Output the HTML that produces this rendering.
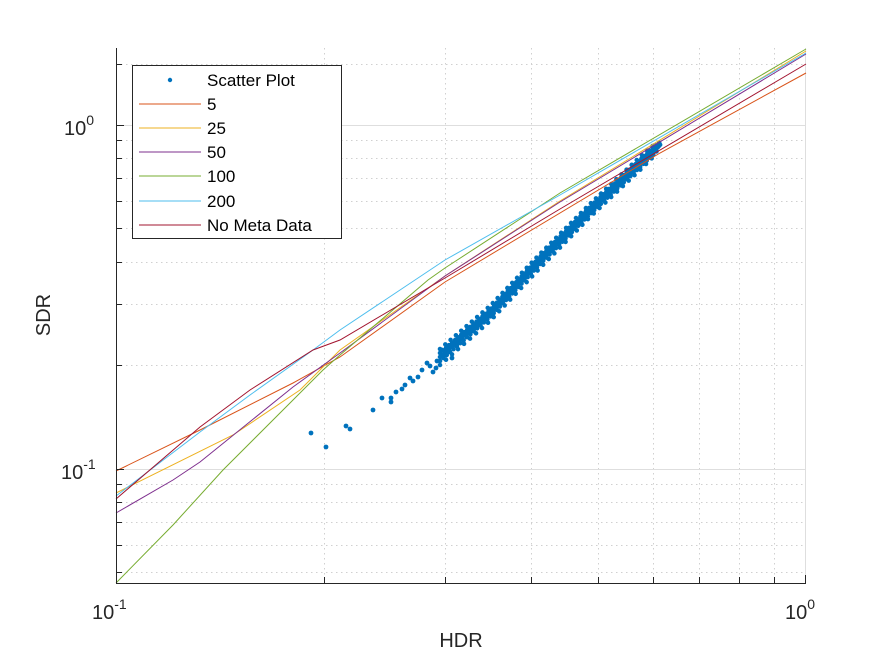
<!DOCTYPE html>
<html><head><meta charset="utf-8"><style>
html,body{margin:0;padding:0;background:#fff;}
svg{display:block;font-family:"Liberation Sans",sans-serif;}
</style></head><body>
<svg width="891" height="656" viewBox="0 0 891 656" xmlns="http://www.w3.org/2000/svg">
<rect width="891" height="656" fill="#fff"/>
<g stroke="#d0d0d0" stroke-width="1" stroke-dasharray="1.5,3.5">
<line x1="324.5" y1="48" x2="324.5" y2="583"/><line x1="445.5" y1="48" x2="445.5" y2="583"/>
<line x1="531.5" y1="48" x2="531.5" y2="583"/><line x1="598.5" y1="48" x2="598.5" y2="583"/>
<line x1="653.5" y1="48" x2="653.5" y2="583"/><line x1="699.5" y1="48" x2="699.5" y2="583"/>
<line x1="739.5" y1="48" x2="739.5" y2="583"/><line x1="774.5" y1="48" x2="774.5" y2="583"/>
<line x1="116" y1="572.5" x2="806" y2="572.5"/><line x1="116" y1="545.5" x2="806" y2="545.5"/>
<line x1="116" y1="522.5" x2="806" y2="522.5"/><line x1="116" y1="502.5" x2="806" y2="502.5"/>
<line x1="116" y1="484.5" x2="806" y2="484.5"/><line x1="116" y1="365.5" x2="806" y2="365.5"/>
<line x1="116" y1="304.5" x2="806" y2="304.5"/><line x1="116" y1="262.5" x2="806" y2="262.5"/>
<line x1="116" y1="228.5" x2="806" y2="228.5"/><line x1="116" y1="201.5" x2="806" y2="201.5"/>
<line x1="116" y1="178.5" x2="806" y2="178.5"/><line x1="116" y1="158.5" x2="806" y2="158.5"/>
<line x1="116" y1="140.5" x2="806" y2="140.5"/><line x1="116" y1="64.5" x2="806" y2="64.5"/>
</g>
<g stroke="#dedede" stroke-width="1">
<line x1="116" y1="125.5" x2="806" y2="125.5"/><line x1="116" y1="469.5" x2="806" y2="469.5"/>
<line x1="805.5" y1="48" x2="805.5" y2="583"/>
</g>
<g fill="#0072BD">
<circle cx="311" cy="433" r="2.4"/><circle cx="326" cy="447" r="2.4"/><circle cx="346" cy="426" r="2.4"/>
<circle cx="350" cy="429" r="2.4"/><circle cx="373" cy="410" r="2.4"/><circle cx="382" cy="398" r="2.4"/>
<circle cx="391" cy="402" r="2.4"/><circle cx="391" cy="398" r="2.4"/><circle cx="396" cy="392" r="2.4"/>
<circle cx="402" cy="389" r="2.4"/><circle cx="405" cy="385" r="2.4"/><circle cx="410" cy="378" r="2.4"/>
<circle cx="413" cy="381" r="2.4"/><circle cx="418" cy="377" r="2.4"/><circle cx="422" cy="370" r="2.4"/>
<circle cx="427" cy="363" r="2.4"/><circle cx="430" cy="366" r="2.4"/><circle cx="433" cy="372" r="2.4"/>
<circle cx="436" cy="368" r="2.4"/><circle cx="445" cy="355" r="2.4"/><circle cx="452" cy="358" r="2.4"/>
<circle cx="437" cy="361" r="2.4"/><circle cx="442" cy="350" r="2.4"/><circle cx="458" cy="343" r="2.4"/>
</g>
<g fill="none" stroke="#0072BD" stroke-linecap="round">
<polyline stroke-width="6" points="470,331 490,313 540,260 590,210 640,163 658,146"/>
<polyline stroke-width="4.6" stroke-dasharray="0 3" points="440,357 490,313 540,260 590,210 640,163 662,143"/>
<polyline stroke-width="4.6" stroke-dasharray="0 4" points="440,353 490,310 540,257 590,207 640,160 660,142"/>
<polyline stroke-width="4.6" stroke-dasharray="0 4.5" points="440,361 490,317 540,264 590,214 640,167 658,150"/>
<polyline stroke-width="4.6" stroke-dasharray="0 7" points="440,349 490,306 540,254 590,204 640,157 656,143"/>
<polyline stroke-width="4.6" stroke-dasharray="0 8" points="440,365 490,321 540,268 590,217 640,170 655,155"/>
</g>
<g fill="none" stroke-width="1">
<polyline stroke="#D95319" points="116,471 200,430 293,383 340,357 445,282 660,153 806,73"/>
<polyline stroke="#EDB120" points="116,493 233,435 300,390 340,350 445,276 560,201 806,51"/>
<polyline stroke="#7E2F8E" points="116,513 173,480 200,462 293,387 340,353 445,276 560,202 806,54"/>
<polyline stroke="#77AC30" points="116,583 173,525 223,470 323,370 340,355 428,280 445,268 560,193 806,49"/>
<polyline stroke="#4DBEEE" points="116,496 200,432 250,395 313,350 340,330 445,260 560,195 806,53"/>
<polyline stroke="#A2142F" points="116,499 200,427 250,390 313,350 340,340 445,278 560,209 806,64"/>
</g>
<g stroke="#262626" stroke-width="1">
<line x1="116.5" y1="48" x2="116.5" y2="583.5"/><line x1="116" y1="583.5" x2="806" y2="583.5"/>
<line x1="324.5" y1="583" x2="324.5" y2="577"/><line x1="445.5" y1="583" x2="445.5" y2="577"/>
<line x1="531.5" y1="583" x2="531.5" y2="577"/><line x1="598.5" y1="583" x2="598.5" y2="577"/>
<line x1="653.5" y1="583" x2="653.5" y2="577"/><line x1="699.5" y1="583" x2="699.5" y2="577"/>
<line x1="739.5" y1="583" x2="739.5" y2="577"/><line x1="774.5" y1="583" x2="774.5" y2="577"/>
<line x1="805.5" y1="583" x2="805.5" y2="575"/>
<line x1="116" y1="125.5" x2="124" y2="125.5"/><line x1="116" y1="469.5" x2="124" y2="469.5"/>
<line x1="116" y1="572.5" x2="122" y2="572.5"/><line x1="116" y1="545.5" x2="122" y2="545.5"/>
<line x1="116" y1="522.5" x2="122" y2="522.5"/><line x1="116" y1="502.5" x2="122" y2="502.5"/>
<line x1="116" y1="484.5" x2="122" y2="484.5"/><line x1="116" y1="365.5" x2="122" y2="365.5"/>
<line x1="116" y1="304.5" x2="122" y2="304.5"/><line x1="116" y1="262.5" x2="122" y2="262.5"/>
<line x1="116" y1="228.5" x2="122" y2="228.5"/><line x1="116" y1="201.5" x2="122" y2="201.5"/>
<line x1="116" y1="178.5" x2="122" y2="178.5"/><line x1="116" y1="158.5" x2="122" y2="158.5"/>
<line x1="116" y1="140.5" x2="122" y2="140.5"/><line x1="116" y1="64.5" x2="122" y2="64.5"/>
</g>
<g fill="#262626" font-size="20">
<text x="92" y="619">10<tspan font-size="14" dy="-10">-1</tspan></text>
<text x="785" y="619">10<tspan font-size="14" dy="-10">0</tspan></text>
<text x="64" y="135">10<tspan font-size="14" dy="-10">0</tspan></text>
<text x="61" y="479">10<tspan font-size="14" dy="-10">-1</tspan></text>
<text x="461" y="647" text-anchor="middle" font-size="20">HDR</text>
<text transform="translate(50,315) rotate(-90)" text-anchor="middle" font-size="20">SDR</text>
</g>
<rect x="132.5" y="65.5" width="209" height="173" fill="#fff" stroke="#262626" stroke-width="1"/>
<circle cx="170" cy="80" r="2.2" fill="#0072BD"/>
<g stroke-width="1">
<line x1="139" y1="104" x2="201" y2="104" stroke="#D95319"/>
<line x1="139" y1="128" x2="201" y2="128" stroke="#EDB120"/>
<line x1="139" y1="152" x2="201" y2="152" stroke="#7E2F8E"/>
<line x1="139" y1="176" x2="201" y2="176" stroke="#77AC30"/>
<line x1="139" y1="201" x2="201" y2="201" stroke="#4DBEEE"/>
<line x1="139" y1="225" x2="201" y2="225" stroke="#A2142F"/>
</g>
<g fill="#000" font-size="17">
<text x="207" y="86">Scatter Plot</text>
<text x="207" y="110">5</text>
<text x="207" y="134">25</text>
<text x="207" y="158">50</text>
<text x="207" y="182">100</text>
<text x="207" y="207">200</text>
<text x="207" y="231">No Meta Data</text>
</g>
</svg>
</body></html>
